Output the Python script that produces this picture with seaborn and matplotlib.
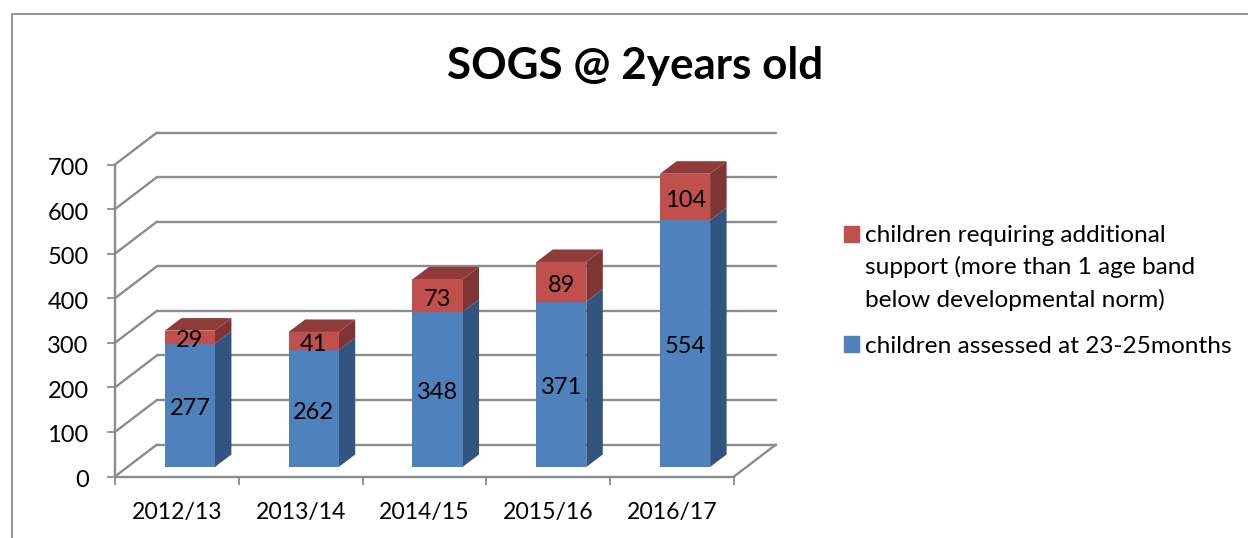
import matplotlib
matplotlib.use("Agg")
import matplotlib.pyplot as plt
from matplotlib.lines import Line2D
from matplotlib.patches import Patch
from matplotlib.transforms import ScaledTranslation
import pandas as pd
import seaborn as sns

years = ["2012/13", "2013/14", "2014/15", "2015/16", "2016/17"]
assessed = [277, 262, 348, 371, 554]
additional = [29, 41, 73, 89, 104]
y_ticks = [0, 100, 200, 300, 400, 500, 600, 700]
title = "SOGS @ 2years old"
label_additional = "children requiring additional\nsupport (more than 1 age band\nbelow developmental norm)"
label_assessed = "children assessed at 23-25months"

BLUE, BLUE_SIDE = "#4F81BD", "#32557F"
RED, RED_SIDE, RED_TOP = "#C0504D", "#7F3533", "#8E3B39"
GREY = "#8C8C8C"

W, H = 1248, 538

sns.set_theme(style="white")
plt.rcParams["font.family"] = ["Lato", "DejaVu Sans"]

df = pd.DataFrame({"year": years, "assessed": assessed, "additional": additional})
df["total"] = df["assessed"] + df["additional"]

fig = plt.figure(figsize=(W / 100, H / 100), dpi=100, facecolor="white")


def px_axes(x0, y_bottom, width=619, height=312):
    # same plane size, just shifted, so all three share the data scale
    ax = fig.add_axes([x0 / W, 1 - y_bottom / H, width / W, height / H])
    ax.set_xlim(-0.5, 4.5)
    ax.set_ylim(0, 700)
    ax.patch.set_alpha(0)
    return ax


# outer chart frame, runs off the right and bottom of the crop
fig.add_artist(Line2D([1, 11.5 / W, 11.5 / W], [1 - 13.5 / H, 1 - 13.5 / H, 0],
                      color="#8A8A8A", lw=1.3, transform=fig.transFigure))

# back wall
back = px_axes(157, 444.5)
back.set_xticks([])
back.set_yticks(y_ticks)
back.tick_params(left=False, labelleft=False)
back.grid(axis="y", color=GREY, lw=1.7)
for line in back.get_ygridlines():
    line.set_clip_on(False)
sns.despine(ax=back, left=True, bottom=True, top=True, right=True)

# front plane with the real axis lines
front = px_axes(115, 476.5)
front.set_xticks([-0.5, 0.5, 1.5, 2.5, 3.5, 4.5])
front.set_xticklabels([])
front.set_xticks(range(5), labels=years, minor=True)
front.set_yticks(y_ticks)
front.tick_params(axis="x", which="major", length=6, width=1.3, color=GREY, bottom=True)
front.tick_params(axis="x", which="minor", length=0, labelsize=16.6, pad=18, labelcolor="black")
front.tick_params(axis="y", length=6, width=1.3, color=GREY, left=True, labelsize=17, pad=13,
                  labelcolor="black")
nudge = ScaledTranslation(0, -2 / 100, fig.dpi_scale_trans)
for lab in front.get_yticklabels():
    lab.set_transform(lab.get_transform() + nudge)
sns.despine(ax=front)
for side in ("left", "bottom"):
    front.spines[side].set_color(GREY)
    front.spines[side].set_linewidth(1.7)

# diagonals joining the front plane to the back wall
step_x = 42 / 123.8
step_y = 32 / 0.4457
for v in y_ticks:
    front.plot([-0.5, -0.5 + step_x], [v, v + step_y], color=GREY, lw=1.7, clip_on=False)
front.plot([4.5, 4.5 + step_x], [0, step_y], color=GREY, lw=1.7, clip_on=False)

# bars, stacked the usual seaborn way: totals first, blue over them
bars = px_axes(128, 467)
sns.barplot(df, x="year", y="total", color=RED, saturation=1, width=0.404, ax=bars, zorder=3,
            linewidth=0, edgecolor="none")
sns.barplot(df, x="year", y="assessed", color=BLUE, saturation=1, width=0.404, ax=bars, zorder=4,
            linewidth=0, edgecolor="none")
bars.set_xlim(-0.5, 4.5)
bars.set_ylim(0, 700)
bars.axis("off")

half = 0.404 / 2
dx = 16.5 / 123.8
dy = 12.5 / 0.4457
for i, row in df.iterrows():
    l, r = i - half, i + half
    a, t = row["assessed"], row["total"]
    bars.fill([r, r + dx, r + dx, r], [0, dy, a + dy, a], color=BLUE_SIDE, lw=0, zorder=2)
    bars.fill([r, r + dx, r + dx, r], [a, a + dy, t + dy, t], color=RED_SIDE, lw=0, zorder=2)
    bars.fill([l, l + dx, r + dx, r], [t, t + dy, t + dy, t], color=RED_TOP, lw=0, zorder=2)
    for value, mid in ((row["assessed"], a / 2), (row["additional"], a + row["additional"] / 2)):
        bars.annotate(str(value), (i, mid), xytext=(0, -1), textcoords="offset points", ha="center",
                      va="center_baseline", fontsize=17, color="black", zorder=6)

fig.text(635 / W, 1 - 66 / H, title, ha="center", va="center", fontsize=31.7, fontweight="bold", color="black")

handles = [Patch(color=RED), Patch(color=BLUE)]
leg = fig.legend(handles, [label_additional, label_assessed], loc="upper left",
                 bbox_to_anchor=(824 / W, 1 - 205 / H), frameon=False, fontsize=17.6,
                 handlelength=0.62, handleheight=0.62, handletextpad=0.27, labelspacing=1.0,
                 borderpad=0.3, labelcolor="black")
for txt in leg.get_texts():
    txt.set_linespacing(1.59)
# first swatch sits on the first line of the wrapped label
first = leg.get_patches()[0]
first.set_y(first.get_y() + 24.5)

fig.savefig("out.png", dpi=100, facecolor="white")
